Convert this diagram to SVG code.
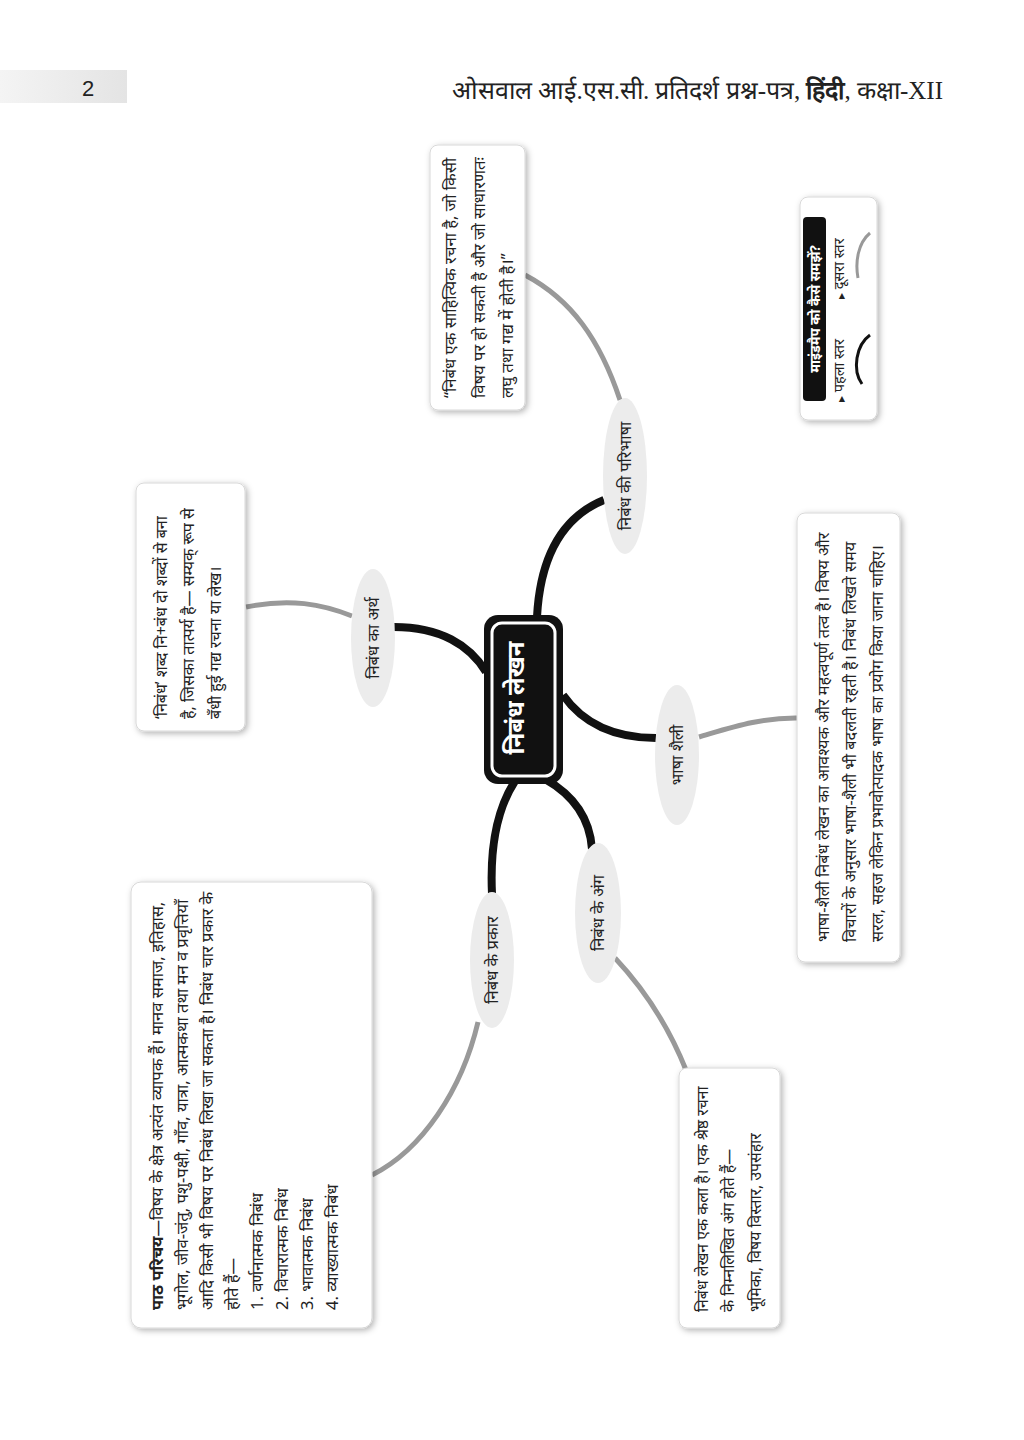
<svg xmlns="http://www.w3.org/2000/svg" width="1024" height="1440" viewBox="0 0 1024 1440">
<defs>
<filter id="sh" x="-20%" y="-20%" width="140%" height="140%">
<feDropShadow dx="2" dy="2" stdDeviation="3" flood-color="#000" flood-opacity="0.3"/>
</filter>
<linearGradient id="hg" x1="0" y1="0" x2="1" y2="0">
<stop offset="0" stop-color="#f4f4f4"/>
<stop offset="1" stop-color="#e4e4e4"/>
</linearGradient>
<style>
.t{font-family:"Noto Sans","Noto Sans Devanagari","Liberation Sans",sans-serif;fill:#222;}
.box{fill:#fff;stroke:#d8d8d8;stroke-width:1;filter:url(#sh);}
.ell{fill:#ececec;}
.blk{fill:none;stroke:#111;stroke-width:8;stroke-linecap:butt;}
.gry{fill:none;stroke:#999;stroke-width:5;stroke-linecap:butt;}
</style>
</defs>
<rect width="1024" height="1440" fill="#fff"/>

<g id="header">
<rect x="0" y="70" width="127" height="33" fill="url(#hg)"/>
<text x="88" y="96" text-anchor="middle" font-family="Liberation Sans Narrow,Liberation Sans,sans-serif" font-size="22" fill="#222">2</text>
<text x="943" y="99" text-anchor="end" font-family="Liberation Serif,Noto Serif,serif" font-size="25" fill="#222">ओसवाल आई.एस.सी. प्रतिदर्श प्रश्न-पत्र, <tspan font-weight="bold">हिंदी</tspan>, कक्षा-XII</text>
</g>

<g id="connectors">
<path class="blk" d="M537 617 C540 560 560 518 604 500"/>
<path class="gry" d="M620 400 C600 340 572 300 525 275"/>
<path class="blk" d="M394 627 C440 627 470 645 486 672"/>
<path class="gry" d="M246 607 C290 598 322 604 352 616"/>
<path class="blk" d="M563 695 C582 722 612 738 656 738"/>
<path class="gry" d="M699 737 C730 728 762 717 800 718"/>
<path class="blk" d="M545 779 C575 796 590 820 592 849"/>
<path class="gry" d="M615 958 C645 990 670 1030 686 1070"/>
<path class="blk" d="M515 781 C495 812 490 852 492 894"/>
<path class="gry" d="M478 1022 C462 1090 422 1150 372 1175"/>
</g>

<g id="center">
<rect x="484" y="615" width="79" height="169" rx="14" fill="#111"/>
<rect x="492" y="623" width="63" height="153" rx="10" fill="#111" stroke="#fff" stroke-width="3"/>
<text transform="translate(524,698) rotate(-90)" text-anchor="middle" class="t" font-size="24" font-weight="bold" style="fill:#fff">निबंध लेखन</text>
</g>

<g id="n-paribhasha">
<ellipse class="ell" cx="625" cy="476" rx="22" ry="78"/>
<text transform="translate(631,476) rotate(-90)" text-anchor="middle" class="t" font-size="16.5">निबंध की परिभाषा</text>
</g>
<g id="n-arth">
<ellipse class="ell" cx="373" cy="638" rx="22" ry="69"/>
<text transform="translate(379,638) rotate(-90)" text-anchor="middle" class="t" font-size="16.5">निबंध का अर्थ</text>
</g>
<g id="n-shaili">
<ellipse class="ell" cx="677" cy="755" rx="22" ry="70"/>
<text transform="translate(683,755) rotate(-90)" text-anchor="middle" class="t" font-size="16.5">भाषा शैली</text>
</g>
<g id="n-ang">
<ellipse class="ell" cx="598" cy="913" rx="23" ry="70"/>
<text transform="translate(604,913) rotate(-90)" text-anchor="middle" class="t" font-size="16.5">निबंध के अंग</text>
</g>
<g id="n-prakar">
<ellipse class="ell" cx="492" cy="960" rx="22" ry="68"/>
<text transform="translate(498,960) rotate(-90)" text-anchor="middle" class="t" font-size="16.5">निबंध के प्रकार</text>
</g>

<g id="box-paribhasha">
<rect class="box" x="430" y="145" width="95" height="265" rx="8"/>
<text transform="translate(456,398) rotate(-90)" class="t" font-size="16.6">
<tspan x="0" y="0">“निबंध एक साहित्यिक रचना है, जो किसी</tspan>
<tspan x="0" y="29">विषय पर हो सकती है और जो साधारणतः</tspan>
<tspan x="0" y="57">लघु तथा गद्य में होती है।”</tspan>
</text>
</g>

<g id="legend">
<rect class="box" x="800" y="197" width="77" height="223" rx="8"/>
<rect x="803" y="217" width="23" height="184" rx="4" fill="#111"/>
<text transform="translate(820,309) rotate(-90)" text-anchor="middle" class="t" font-size="13.5" font-weight="bold" style="fill:#fff">माइंडमैप को कैसे समझें?</text>
<text transform="translate(844,402) rotate(-90)" class="t" font-size="14.5"><tspan font-size="8">▶</tspan> पहला स्तर</text>
<text transform="translate(844,299) rotate(-90)" class="t" font-size="14.5"><tspan font-size="8">▶</tspan> दूसरा स्तर</text>
<path d="M870 335 C856 345 852 370 862 384" fill="none" stroke="#111" stroke-width="3"/>
<path d="M870 233 C858 243 855 262 858 278" fill="none" stroke="#999" stroke-width="3"/>
</g>

<g id="box-arth">
<rect class="box" x="136" y="483" width="109" height="248" rx="8"/>
<text transform="translate(167,719) rotate(-90)" class="t" font-size="16">
<tspan x="0" y="0">‘निबंध’ शब्द नि+बंध दो शब्दों से बना</tspan>
<tspan x="0" y="27">है, जिसका तात्पर्य है— सम्यक् रूप से</tspan>
<tspan x="0" y="54">बँधी हुई गद्य रचना या लेख।</tspan>
</text>
</g>

<g id="box-shaili">
<rect class="box" x="797" y="513" width="103" height="449" rx="8"/>
<text transform="translate(829,942) rotate(-90)" class="t" font-size="16.3">
<tspan x="0" y="0">भाषा-शैली निबंध लेखन का आवश्यक और महत्वपूर्ण तत्व है। विषय और</tspan>
<tspan x="0" y="27">विचारों के अनुसार भाषा-शैली भी बदलती रहती है। निबंध लिखते समय</tspan>
<tspan x="0" y="54">सरल, सहज लेकिन प्रभावोत्पादक भाषा का प्रयोग किया जाना चाहिए।</tspan>
</text>
</g>

<g id="box-prakar">
<rect class="box" x="131" y="882" width="241" height="446" rx="10"/>
<text transform="translate(163,1310) rotate(-90)" class="t" font-size="16.5">
<tspan x="0" y="0"><tspan font-weight="bold">पाठ परिचय</tspan>—विषय के क्षेत्र अत्यंत व्यापक हैं। मानव समाज, इतिहास,</tspan>
<tspan x="0" y="25">भूगोल, जीव-जंतु, पशु-पक्षी, गाँव, यात्रा, आत्मकथा तथा मन व प्रवृत्तियाँ</tspan>
<tspan x="0" y="50">आदि किसी भी विषय पर निबंध लिखा जा सकता है। निबंध चार प्रकार के</tspan>
<tspan x="0" y="75">होते हैं—</tspan>
<tspan x="0" y="100">1. वर्णनात्मक निबंध</tspan>
<tspan x="0" y="125">2. विचारात्मक निबंध</tspan>
<tspan x="0" y="150">3. भावात्मक निबंध</tspan>
<tspan x="0" y="175">4. व्याख्यात्मक निबंध</tspan>
</text>
</g>

<g id="box-ang">
<rect class="box" x="679" y="1068" width="101" height="260" rx="8"/>
<text transform="translate(708,1312) rotate(-90)" class="t" font-size="15.8">
<tspan x="0" y="0">निबंध लेखन एक कला है। एक श्रेष्ठ रचना</tspan>
<tspan x="0" y="26">के निम्नलिखित अंग होते हैं—</tspan>
<tspan x="0" y="53">भूमिका, विषय विस्तार, उपसंहार</tspan>
</text>
</g>
</svg>
